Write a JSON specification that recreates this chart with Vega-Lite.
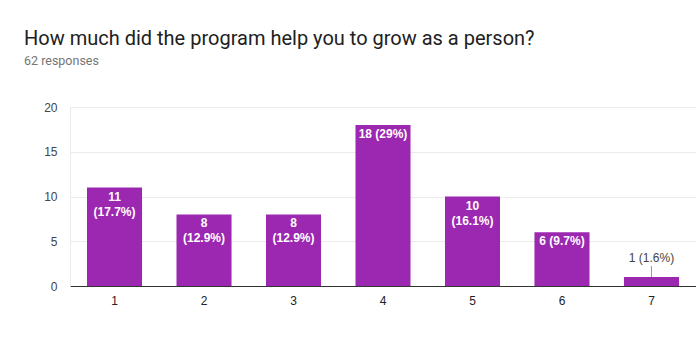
{
  "$schema": "https://vega.github.io/schema/vega-lite/v6.json",
  "width": 626,
  "height": 179,
  "autosize": "none",
  "padding": {"left": 70, "top": 107, "right": 0, "bottom": 51},
  "background": "white",
  "title": {
    "text": "How much did the program help you to grow as a person?",
    "subtitle": "62 responses",
    "anchor": "start",
    "frame": "group",
    "dx": -46,
    "offset": 34,
    "font": "Roboto",
    "fontSize": 20,
    "fontWeight": "normal",
    "color": "#212121",
    "subtitleFont": "Roboto",
    "subtitleFontSize": 12.5,
    "subtitleColor": "#757575",
    "subtitlePadding": 6
  },
  "data": {
    "values": [
      {"rating": "1", "count": 11, "label": "11\n(17.7%)"},
      {"rating": "2", "count": 8, "label": "8\n(12.9%)"},
      {"rating": "3", "count": 8, "label": "8\n(12.9%)"},
      {"rating": "4", "count": 18, "label": "18 (29%)"},
      {"rating": "5", "count": 10, "label": "10\n(16.1%)"},
      {"rating": "6", "count": 6, "label": "6 (9.7%)"},
      {"rating": "7", "count": 1, "label": "1 (1.6%)"}
    ]
  },
  "config": {
    "view": {"stroke": null},
    "font": "Liberation Sans"
  },
  "encoding": {
    "x": {
      "field": "rating",
      "type": "ordinal",
      "scale": {"paddingInner": 0.385, "paddingOuter": 0.19},
      "axis": {
        "title": null,
        "labelAngle": 0,
        "labelFont": "Liberation Sans",
        "labelFontSize": 12,
        "labelColor": "#222222",
        "ticks": false,
        "labelPadding": 9,
        "domainColor": "#333333",
        "domainWidth": 1
      }
    },
    "y": {
      "field": "count",
      "type": "quantitative",
      "scale": {"domain": [0, 20]},
      "axis": {
        "title": null,
        "values": [0, 5, 10, 15, 20],
        "labelFont": "Liberation Sans",
        "labelFontSize": 12,
        "labelColor": "#444444",
        "ticks": false,
        "labelPadding": 13,
        "domainColor": "#ebebeb",
        "gridColor": "#ebebeb"
      }
    }
  },
  "layer": [
    {"mark": {"type": "bar", "color": "#9c27b0"}},
    {
      "transform": [{"filter": "datum.count > 2"}],
      "mark": {
        "type": "text",
        "color": "white",
        "baseline": "top",
        "dy": 4,
        "fontSize": 12,
        "fontWeight": "bold",
        "lineBreak": "\n",
        "lineHeight": 15
      },
      "encoding": {"text": {"field": "label"}}
    },
    {
      "transform": [{"filter": "datum.count <= 2"}],
      "mark": {"type": "rule", "color": "#999999", "y2Offset": -11},
      "encoding": {"y2": {"field": "count"}}
    },
    {
      "transform": [{"filter": "datum.count <= 2"}],
      "mark": {
        "type": "text",
        "color": "#444444",
        "baseline": "bottom",
        "dy": -12,
        "fontSize": 12
      },
      "encoding": {"text": {"field": "label"}}
    }
  ]
}
